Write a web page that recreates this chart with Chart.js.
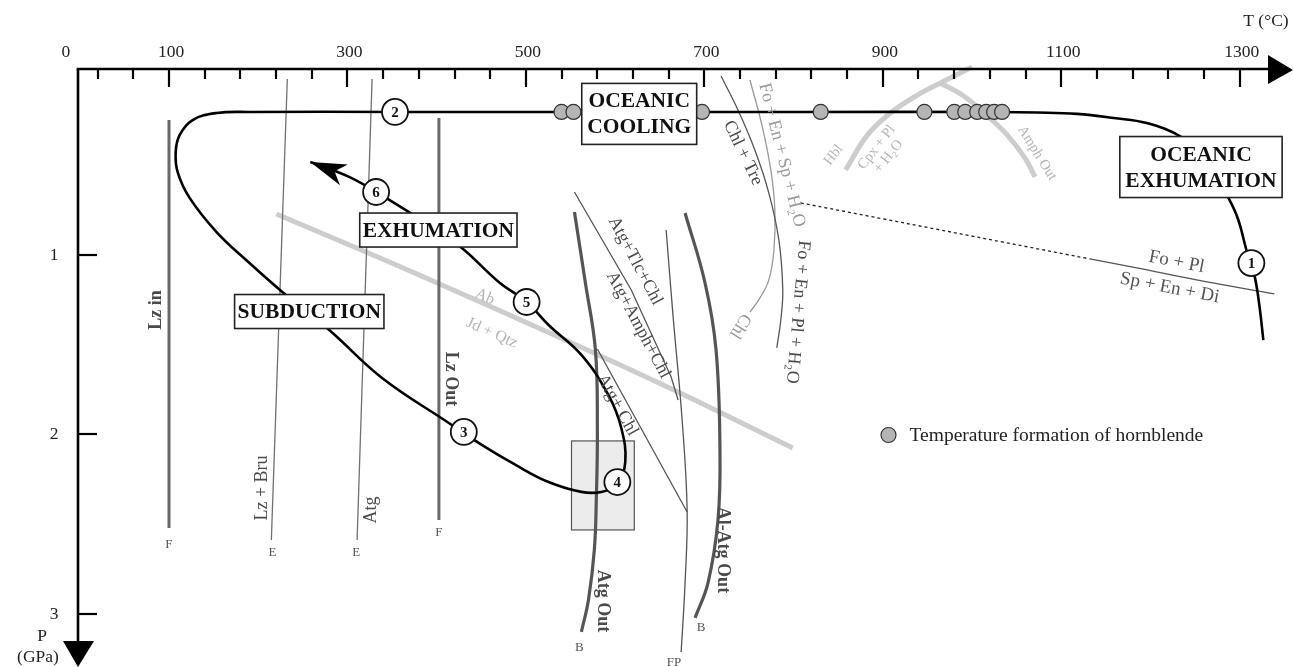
<!DOCTYPE html>
<html><head><meta charset="utf-8">
<script src="https://cdn.jsdelivr.net/npm/chart.js@4/dist/chart.umd.min.js"></script>
<style>html,body{margin:0;padding:0;background:#fff;overflow:hidden}#wrap{position:relative;width:1293px;height:667px}</style>
</head><body><div id="wrap"><canvas id="c" width="1293" height="667"></canvas></div>
<script>
// ---------------- DATA (T in °C, P in GPa) ----------------
const xTickValues = [20,60,100,140,180,220,260,300,340,380,420,460,500,540,580,620,660,700,740,780,820,860,900,940,980,1020,1060,1100,1140,1180,1220,1260,1300];
const xMajorTicks = [100,300,500,700,900,1100,1300];
const xTickLabels = ['0','100','300','500','700','900','1100','1300'];
const xLabelValues = [0,100,300,500,700,900,1100,1300];
const yTickLabels = ['1','2','3'];
const yTickValues = [1,2,3];

// P-T path: 1 -> 2 -> subduction -> 3 -> 4 -> 5 -> 6 (arrow)
const ptPath = [[1326.5,1.474],[1322.0,1.279],[1316.4,1.111],[1307.5,0.972],[1298.5,0.805],[1287.4,0.682],[1268.4,0.526],[1251.6,0.426],[1234.9,0.343],[1195.8,0.265],[1158.9,0.237],[1117.5,0.214],[1072.8,0.206],[1028.2,0.203],[804.7,0.203],[581.2,0.203],[357.8,0.203],[190.2,0.203],[153.3,0.209],[126.5,0.248],[112.0,0.331],[107.5,0.426],[109.7,0.538],[123.1,0.682],[153.3,0.872],[190.2,1.045],[227.0,1.206],[279.6,1.418],[338.8,1.685],[413.6,1.936],[450.5,2.058],[488.5,2.170],[525.4,2.265],[562.2,2.320],[584.6,2.320],[602.5,2.276],[611.4,2.153],[606.9,1.964],[592.4,1.780],[562.2,1.557],[525.4,1.390],[500.8,1.262],[469.5,1.150],[428.2,0.961],[391.3,0.833],[343.2,0.682],[301.9,0.565],[258.3,0.482]];
const stationLabels = ['1','2','3','4','5','6'];
const stationPoints = [[1313.1,1.045],[353.3,0.203],[430.4,1.986],[602.5,2.265],[500.8,1.262],[332.1,0.649]];

// Temperature formation of hornblende
const hornblendeT = [539.9,553.3,697.4,830.4,946.6,980.1,992.4,1005.8,1015.9,1024.8,1033.7];
const hornblendeP = [0.203,0.203,0.203,0.203,0.203,0.203,0.203,0.203,0.203,0.203,0.203];

// reaction curves
const lzInLine   = [[100,0.248],[100,2.521]];
const lzOutLine  = [[402.5,0.237],[402.5,2.476]];
const lzBruLine  = [[232.6,0.020],[214.7,2.588]];
const atgLine    = [[327.6,0.020],[310.8,2.588]];
const atgOutLine = [[554.4,0.760],[566.7,1.156],[577.9,1.529],[580.1,1.975],[578.9,2.365],[576.7,2.643],[570.1,2.922],[562.2,3.100]];
const alAtgOutLine = [[678.4,0.766],[700.8,1.156],[713.1,1.529],[717.5,2.086],[715.3,2.476],[704.1,2.827],[689.6,3.022]];
const fpLine     = [[657.2,0.861],[665.0,1.345],[675.1,1.919],[680.7,2.421],[678.4,2.827],[674.0,3.212]];
const atgTlcLine = [[554.4,0.649],[618.1,1.195],[662.8,1.680],[670.6,1.808]];
const atgChlLine = [[580.1,1.524],[680.7,2.432]];
const chlTreLine = [[718.7,0.003],[737.7,0.192],[756.6,0.415],[772.3,0.655],[783.5,0.916],[787.9,1.195],[785.7,1.362],[781.2,1.518]];
const chlOutLine = [[751.1,0.025],[764.5,0.276],[774.5,0.526],[779.0,0.749],[778.0,0.972],[772.3,1.139],[762.2,1.240],[751.1,1.318]];
const spinelDashed = [[808.0,0.710],[1132.1,1.022]];
const spinelSolid  = [[1132.1,1.022],[1184.6,1.072],[1251.6,1.139],[1338.8,1.217]];
const abJdLine   = [[220.3,0.772],[380.1,1.111],[637.1,1.685],[799.1,2.075]];
const hblArcA    = [[858.3,0.526],[882.9,0.331],[908.6,0.209],[938.8,0.109],[966.7,0.036],[1000.2,-0.047]];
const hblArcB    = [[964.5,0.042],[989.1,0.109],[1013.6,0.209],[1039.3,0.331],[1059.4,0.460],[1070.6,0.565]];
const greyBoxT = [551.1,621.5];
const greyBoxP = [2.036,2.532];

// text annotations: [T, P, text, rotation(deg), style]
const curveLabels = [
  [86.3,1.306,'Lz in',-90,'darkBold'],
  [415.9,1.691,'Lz Out',90,'darkBold'],
  [204.7,2.298,'Lz + Bru',-90,'dark'],
  [326.5,2.421,'Atg',-90,'dark'],
  [585.7,2.928,'Atg Out',90,'darkBold'],
  [720.9,2.643,'Al-Atg Out',90,'darkBold'],
  [622.6,1.033,'Atg+Tlc+Chl',62,'dark'],
  [625.9,1.390,'Atg+Amph+Chl',62,'dark'],
  [602.5,1.836,'Atg+ Chl',61,'dark'],
  [743.2,0.432,'Chl + Tre',64,'dark'],
  [786.8,0.443,'Fo + En + Sp + H\u2082O',76,'mid'],
  [804.7,1.318,'Fo + En + Pl + H\u2082O',95,'dark'],
  [739.9,1.396,'Chl',122,'mid'],
  [453.9,1.234,'Ab',24,'light'],
  [461.7,1.435,'Jd + Qtz',24,'light'],
  [844.9,0.443,'Hbl',-52,'lightSmall'],
  [899.7,0.426,'Cpx + Pl\n+ H\u2082O',-52,'lightSmall'],
  [1072.8,0.432,'Amph Out',58,'lightSmall'],
  [1229.3,1.039,'Fo + Pl',11,'darkBig'],
  [1221.5,1.184,'Sp + En + Di',11,'darkBig'],
  [99.7,2.616,'F',0,'letter'],
  [215.9,2.660,'E',0,'letter'],
  [309.7,2.660,'E',0,'letter'],
  [402.5,2.549,'F',0,'letter'],
  [560.0,3.189,'B',0,'letter'],
  [696.3,3.078,'B',0,'letter'],
  [666.1,3.273,'FP',0,'letter']
];
// boxed stage names: [T, P, text]
const stageBoxes = [
  [627.0,0.214,'OCEANIC\nCOOLING'],
  [257.2,1.315,'SUBDUCTION'],
  [401.9,0.861,'EXHUMATION'],
  [1256.6,0.510,'OCEANIC\nEXHUMATION']
];
const legendPoint = [906.4,2.003];
const legendText = 'Temperature formation of hornblende';

// ---------------- STYLES ----------------
const SERIF = '"Liberation Serif","DejaVu Serif",serif';
const labelStyles = {
  darkBold:{font:'bold 18px '+SERIF,color:'#4a4a4a'},
  dark:{font:'18px '+SERIF,color:'#4a4a4a'},
  darkBig:{font:'19px '+SERIF,color:'#555'},
  mid:{font:'18px '+SERIF,color:'#9a9a9a'},
  light:{font:'16px '+SERIF,color:'#b4b4b4'},
  lightSmall:{font:'14.5px '+SERIF,color:'#b4b4b4'},
  letter:{font:'13px '+SERIF,color:'#555'}
};
const pts = a => a.map(([x,y]) => ({x,y}));
function lineDS(arr, color, width, order, extra){
  return Object.assign({data:pts(arr),borderColor:color,borderWidth:width,pointRadius:0,tension:0.4,fill:false,order:order,clip:false,borderCapStyle:'butt'},extra||{});
}

const datasets = [
  {data:hornblendeT.map((t,i)=>({x:t,y:hornblendeP[i]})),showLine:false,pointRadius:7.5,pointBackgroundColor:'#b5b5b5',pointBorderColor:'#333',pointBorderWidth:1.2,order:0,clip:false},
  lineDS(ptPath,'#000',2.6,1,{tension:0.4}),
  lineDS(lzInLine,'#6a6a6a',3,5),
  lineDS(lzOutLine,'#6a6a6a',3,5),
  lineDS(lzBruLine,'#707070',1.3,5),
  lineDS(atgLine,'#707070',1.3,5),
  lineDS(atgOutLine,'#555',3.2,5),
  lineDS(alAtgOutLine,'#555',3.2,5),
  lineDS(fpLine,'#555',1.3,5),
  lineDS(atgTlcLine,'#555',1.3,5,{tension:0}),
  lineDS(atgChlLine,'#555',1.3,5),
  lineDS(chlTreLine,'#555',1.3,5),
  lineDS(chlOutLine,'#999',1.3,5),
  lineDS(spinelDashed,'#222',1.3,5,{borderDash:[3,3]}),
  lineDS(spinelSolid,'#555',1.3,5),
  lineDS(abJdLine,'#cdcdcd',5,8),
  lineDS(hblArcA,'#cdcdcd',5,8),
  lineDS(hblArcB,'#cdcdcd',5,8)
];

function drawText(ctx, px, py, text, rot, font, color, lh){
  ctx.save(); ctx.translate(px,py); ctx.rotate(rot*Math.PI/180);
  ctx.font=font; ctx.fillStyle=color; ctx.textAlign='center'; ctx.textBaseline='middle';
  const lines=text.split('\n');
  lines.forEach((l,i)=>ctx.fillText(l,0,(i-(lines.length-1)/2)*lh));
  ctx.restore();
}

const overlay = {
  id:'overlay',
  beforeDatasetsDraw(chart){
    const {ctx, scales:{x,y}} = chart;
    const x0=x.getPixelForValue(greyBoxT[0]), x1=x.getPixelForValue(greyBoxT[1]);
    const y0=y.getPixelForValue(greyBoxP[0]), y1=y.getPixelForValue(greyBoxP[1]);
    ctx.save();
    ctx.fillStyle='#ececec'; ctx.fillRect(x0,y0,x1-x0,y1-y0);
    ctx.strokeStyle='#555'; ctx.lineWidth=1.2; ctx.strokeRect(x0,y0,x1-x0,y1-y0);
    ctx.restore();
  },
  afterDatasetsDraw(chart){
    const {ctx, chartArea:ca, scales:{x,y}} = chart;
    const X=v=>x.getPixelForValue(v), Y=v=>y.getPixelForValue(v);
    // curve labels
    curveLabels.forEach(([t,p,txt,rot,st])=>{
      const s=labelStyles[st];
      drawText(ctx,X(t),Y(p),txt,rot,s.font,s.color,15);
    });
    // arrow head at end of path
    const n=ptPath.length;
    const tx=X(ptPath[n-1][0]), ty=Y(ptPath[n-1][1]);
    const bx=X(ptPath[n-2][0]), by=Y(ptPath[n-2][1]);
    let dx=tx-bx, dy=ty-by; const L=Math.hypot(dx,dy); dx/=L; dy/=L;
    const nx=-dy, ny=dx;
    ctx.save(); ctx.fillStyle='#000'; ctx.beginPath();
    ctx.moveTo(tx,ty);
    ctx.lineTo(tx-dx*36+nx*11, ty-dy*36+ny*11);
    ctx.lineTo(tx-dx*26, ty-dy*26);
    ctx.lineTo(tx-dx*36-nx*11, ty-dy*36-ny*11);
    ctx.closePath(); ctx.fill(); ctx.restore();
    // stage boxes
    stageBoxes.forEach(([t,p,txt])=>{
      const lines=txt.split('\n');
      ctx.save(); ctx.font='bold 21.5px '+SERIF;
      const w=Math.max(...lines.map(l=>ctx.measureText(l).width))+(lines.length>1?11:6);
      const h=lines.length*26+(lines.length>1?9:8);
      const cx=X(t), cy=Y(p);
      ctx.fillStyle='#fff'; ctx.fillRect(cx-w/2,cy-h/2,w,h);
      ctx.strokeStyle='#222'; ctx.lineWidth=1.6; ctx.strokeRect(cx-w/2,cy-h/2,w,h);
      ctx.restore();
      drawText(ctx,cx,cy+1,txt,0,'bold 21.5px '+SERIF,'#111',26);
    });
    // numbered stations
    stationPoints.forEach(([t,p],i)=>{
      const cx=X(t), cy=Y(p);
      ctx.save(); ctx.beginPath(); ctx.arc(cx,cy,13,0,Math.PI*2);
      ctx.fillStyle='#fff'; ctx.fill(); ctx.lineWidth=1.8; ctx.strokeStyle='#111'; ctx.stroke(); ctx.restore();
      drawText(ctx,cx,cy+1,stationLabels[i],0,'bold 15px '+SERIF,'#111',15);
    });
    // legend
    const lx=X(legendPoint[0]), ly=Y(legendPoint[1]);
    ctx.save(); ctx.beginPath(); ctx.arc(lx,ly,7.5,0,Math.PI*2);
    ctx.fillStyle='#b5b5b5'; ctx.fill(); ctx.lineWidth=1.2; ctx.strokeStyle='#333'; ctx.stroke();
    ctx.font='19.5px '+SERIF; ctx.fillStyle='#222'; ctx.textAlign='left'; ctx.textBaseline='middle';
    ctx.fillText(legendText,lx+21,ly+1); ctx.restore();

    // axes
    ctx.save();
    ctx.strokeStyle='#000'; ctx.fillStyle='#000'; ctx.lineWidth=2.6;
    const top=ca.top, left=ca.left;
    ctx.beginPath(); ctx.moveTo(left-1.3,top); ctx.lineTo(1272,top); ctx.stroke();
    ctx.beginPath(); ctx.moveTo(1268,top-14); ctx.lineTo(1293,top+1); ctx.lineTo(1268,top+15); ctx.closePath(); ctx.fill();
    ctx.beginPath(); ctx.moveTo(left,top); ctx.lineTo(left,643); ctx.stroke();
    ctx.beginPath(); ctx.moveTo(left-15,641); ctx.lineTo(left+16,641); ctx.lineTo(left,667); ctx.closePath(); ctx.fill();
    ctx.lineWidth=2.2;
    xTickValues.forEach(v=>{
      const px=Math.round(X(v));
      const len=xMajorTicks.includes(v)?18:10;
      ctx.beginPath(); ctx.moveTo(px,top); ctx.lineTo(px,top+len); ctx.stroke();
    });
    yTickValues.forEach(v=>{
      const py=Math.round(Y(v));
      ctx.beginPath(); ctx.moveTo(left,py); ctx.lineTo(left+19,py); ctx.stroke();
    });
    ctx.font='17.5px '+SERIF; ctx.fillStyle='#222'; ctx.textAlign='center'; ctx.textBaseline='middle';
    xLabelValues.forEach((v,i)=>{
      const px=X(v)+(v===0?-14:2);
      ctx.fillText(xTickLabels[i],px,52);
    });
    yTickValues.forEach((v,i)=>{ ctx.fillText(yTickLabels[i],left-24,Y(v)); });
    ctx.fillText('T (\u00B0C)',1266,21);
    ctx.fillText('P',left-36,636);
    ctx.fillText('(GPa)',left-40,657);
    ctx.restore();
  }
};

new Chart(document.getElementById('c'),{
  type:'line',
  data:{datasets:datasets},
  options:{
    responsive:false, animation:false, devicePixelRatio:1,
    layout:{padding:{left:78,right:5,top:69,bottom:22}},
    plugins:{legend:{display:false},tooltip:{enabled:false}},
    scales:{
      x:{type:'linear',min:-2,max:1350,display:false},
      y:{type:'linear',min:-0.0362,max:3.173,reverse:true,display:false}
    },
    elements:{line:{capBezierPoints:false}}
  },
  plugins:[overlay]
});
</script></body></html>
